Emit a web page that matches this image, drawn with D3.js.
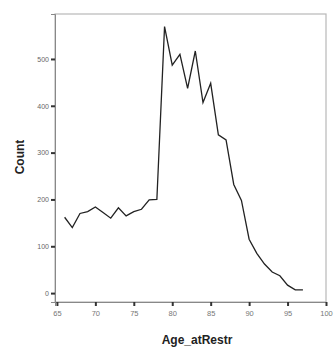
<!DOCTYPE html>
<html><head><meta charset="utf-8">
<script src="https://cdn.jsdelivr.net/npm/d3@7/dist/d3.min.js"></script>
<style>body{margin:0;background:#fff}svg{display:block}</style>
</head><body>
<svg id="c" width="336" height="347"></svg>
<script>
const ages = [66,67,68,69,70,71,72,73,74,75,76,77,78,79,80,81,82,83,84,85,86,87,88,89,90,91,92,93,94,95,96,97];
const counts = [162,140,170,174,184,172,160,182,165,174,179,199,200,569,487,510,437,517,407,448,338,327,232,198,115,85,62,45,37,17,7,7];
const xTicks = [65,70,75,80,85,90,95,100];
const yTicks = [0,100,200,300,400,500];
const xTitle = "Age_atRestr";
const yTitle = "Count";

const svg = d3.select("#c");
const L=55, R=326, T=14, B=302;
const x = d3.scaleLinear().domain([64.75,100]).range([L,R]);
const y = d3.scaleLinear().domain([-19,596]).range([B,T]);

// frame
svg.append("rect").attr("x",L).attr("y",T).attr("width",R-L).attr("height",B-T)
  .attr("fill","#fff").attr("stroke","#b8b8b8").attr("stroke-width",1.2);

// y axis
const ya = svg.append("g").attr("transform",`translate(${L},0)`)
  .call(d3.axisLeft(y).tickValues(yTicks).tickSize(4).tickPadding(2));
ya.select(".domain").attr("stroke","#888");
ya.selectAll(".tick line").attr("stroke","#333").attr("stroke-width",2);
ya.selectAll(".tick text").attr("font-family","Liberation Sans, Arial").attr("font-size",7).attr("fill","#666");

// x axis
const xa = svg.append("g").attr("transform",`translate(0,${B})`)
  .call(d3.axisBottom(x).tickValues(xTicks).tickSize(4).tickPadding(5));
xa.select(".domain").attr("stroke","#888");
xa.selectAll(".tick line").attr("stroke","#333").attr("stroke-width",2);
xa.selectAll(".tick text").attr("font-family","Liberation Sans, Arial").attr("font-size",7.5).attr("fill","#777");

// line
svg.append("path").datum(ages.map((a,i)=>[a,counts[i]]))
  .attr("fill","none").attr("stroke","#222").attr("stroke-width",1.3).attr("stroke-linejoin","miter")
  .attr("d", d3.line().x(d=>x(d[0])).y(d=>y(d[1])));

// titles
svg.append("text").attr("x",197).attr("y",344).attr("text-anchor","middle")
  .attr("font-family","Liberation Sans, Arial").attr("font-weight","bold").attr("font-size",12).attr("fill","#222")
  .text(xTitle);
svg.append("text").attr("transform","translate(24,157) rotate(-90)").attr("text-anchor","middle")
  .attr("font-family","Liberation Sans, Arial").attr("font-weight","bold").attr("font-size",12).attr("fill","#222")
  .text(yTitle);
</script>
</body></html>
